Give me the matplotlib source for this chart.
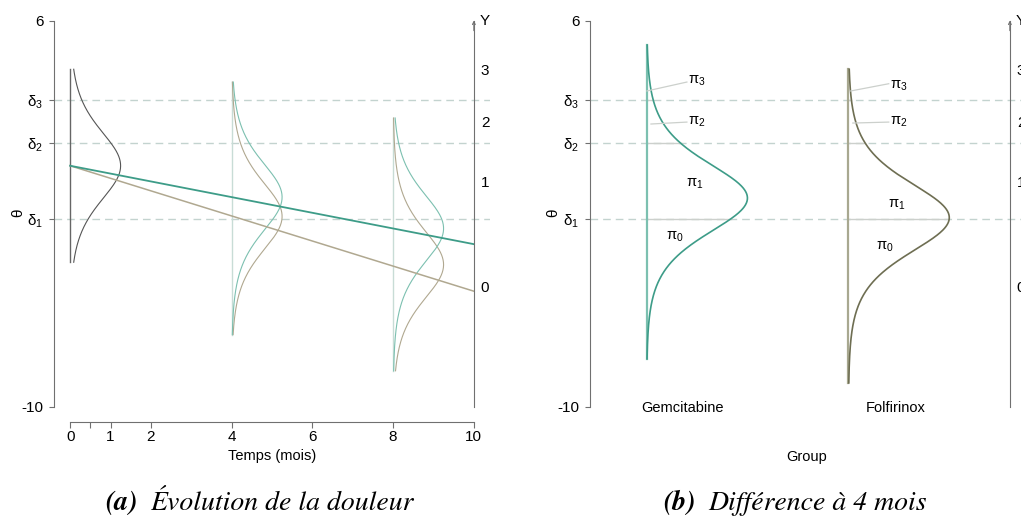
import numpy as np
import matplotlib
matplotlib.use("Agg")
import matplotlib.pyplot as plt

plt.rcParams["font.family"] = ["Liberation Sans", "DejaVu Sans"]
plt.rcParams["mathtext.default"] = "regular"

# seuils latents (axe theta) et niveaux de Y
deltas = [-2.21, 0.94, 2.72]
delta_labels = [r"$\delta_1$", r"$\delta_2$", r"$\delta_3$"]
theta_ticks = [-10, -2.21, 0.94, 2.72, 6]
y_levels = [-5.0, -0.64, 1.83, 4.0]
y_labels = ["0", "1", "2", "3"]

# (a) evolution de la douleur
line_t = [0, 10]
gem_line = [0.0, -3.25]
folf_line = [0.0, -5.2]
dens_times = [0, 4, 8]
dens_gem_center = [0.0, -1.3, -2.6]
dens_folf_center = [0.0, -2.1, -4.1]
dens_lo = [-4.0, -7.0, -8.5]
dens_hi = [4.0, 3.47, 1.98]
time_ticks = [0, 0.5, 1, 2, 4, 6, 8, 10]
time_labels = ["0", "", "1", "2", "4", "6", "8", "10"]

# (b) difference a 4 mois
groups = ["Gemcitabine", "Folfirinox"]
group_x = [1, 6]
group_center = [-1.34, -2.15]
group_lo = [-8.0, -9.0]
group_hi = [5.0, 4.0]

TEAL = "#3d9c88"
TEAL_LIGHT = "#7cc0b0"
KHAKI = "#b0a890"
OLIVE = "#6e6e52"
OLIVE_LIGHT = "#a8a890"
DARK = "#555555"
VLINE = "#c8dcd6"
DASH = "#c3d3cf"
AXIS = "#707070"
SEG = "#ccd0cc"


def logistic_pdf(z):
    e = np.exp(-z)
    return e / (1 + e) ** 2


def setup(ax):
    ax.set_xlim(-0.4, 10.4)
    ax.set_ylim(-10, 6)
    for s in ["top", "right"]:
        ax.spines[s].set_visible(False)
    ax.spines["left"].set_color(AXIS)
    ax.spines["left"].set_bounds(-10, 6)
    ax.set_yticks(theta_ticks)
    ax.set_yticklabels(["-10"] + delta_labels + ["6"])
    ax.tick_params(axis="y", length=3.6, pad=4, color=AXIS, labelsize=11)
    for d in deltas:
        ax.axhline(d, color=DASH, lw=1.0, ls=(0, (5.5, 3.6)), zorder=0)

    # axe Y a droite
    ax2 = ax.twinx()
    ax2.set_ylim(-10, 6)
    for s in ["top", "left", "bottom"]:
        ax2.spines[s].set_visible(False)
    ax2.spines["right"].set_position(("data", 10))
    ax2.spines["right"].set_bounds(-10, 6.0)
    ax2.spines["right"].set_color(AXIS)
    ax2.set_yticks(y_levels)
    ax2.set_yticklabels(y_labels)
    ax2.tick_params(axis="y", length=0, pad=5, labelsize=11)
    ax2.annotate("", xy=(10, 6.02), xytext=(10, 5.6),
                 arrowprops=dict(arrowstyle="->", color=AXIS, lw=0.8,
                                 shrinkA=0, shrinkB=0, mutation_scale=5),
                 annotation_clip=False)
    ax.text(10.15, 6.02, "Y", ha="left", va="center", fontsize=11, clip_on=False)
    return ax2


fig = plt.figure(figsize=(10.21, 5.17), dpi=100)
W, H = 1021, 517
ax_a = fig.add_axes([54 / W, 110 / H, 436 / W, 386 / H])
ax_b = fig.add_axes([590 / W, 110 / H, 436 / W, 386 / H])

# ---------- (a) ----------
setup(ax_a)
ax_a.spines["bottom"].set_position(("outward", 10.8))
ax_a.spines["bottom"].set_bounds(0, 10)
ax_a.spines["bottom"].set_color(AXIS)
ax_a.set_xticks(time_ticks)
ax_a.set_xticklabels(time_labels)
ax_a.tick_params(axis="x", length=4.5, pad=1.5, color=AXIS, labelsize=11)
ax_a.set_xlabel("Temps (mois)", fontsize=10.5)
ax_a.xaxis.set_label_coords((272 - 54) / 436, (407 - 449) / 386)

ax_a.plot(line_t, folf_line, color=KHAKI, lw=1.1, zorder=3)
ax_a.plot(line_t, gem_line, color=TEAL, lw=1.3, zorder=3)

for i, t in enumerate(dens_times):
    th = np.linspace(dens_lo[i], dens_hi[i], 400)
    if t == 0:
        ax_a.plot([t, t], [dens_lo[i], dens_hi[i]], color="#666666", lw=1.0, zorder=2)
        ax_a.plot(t + 5 * logistic_pdf(th - dens_gem_center[i]), th, color=DARK, lw=0.8, zorder=2)
    else:
        ax_a.plot([t, t], [dens_lo[i], dens_hi[i]], color=VLINE, lw=1.0, zorder=1)
        ax_a.plot(t + 5 * logistic_pdf(th - dens_folf_center[i]), th, color=KHAKI, lw=0.8, zorder=2)
        ax_a.plot(t + 5 * logistic_pdf(th - dens_gem_center[i]), th, color=TEAL_LIGHT, lw=0.8, zorder=2)

fig.text(18 / W, 1 - 213 / H, "θ", rotation=90, ha="center", va="center", fontsize=11)

# ---------- (b) ----------
setup(ax_b)
ax_b.spines["bottom"].set_visible(False)
ax_b.set_xticks([])
ax_b.set_xlabel("Group", fontsize=10.5)
ax_b.xaxis.set_label_coords((807 - 590) / 436, (407 - 450) / 386)

curve_cols = [TEAL, OLIVE]
line_cols = [TEAL_LIGHT, OLIVE_LIGHT]
for g, gx, c, lo, hi, cc, lc in zip(groups, group_x, group_center, group_lo,
                                    group_hi, curve_cols, line_cols):
    th = np.linspace(lo, hi, 500)
    for d in deltas:
        ax_b.plot([gx, gx + 10 * logistic_pdf(d - c)], [d, d], color=SEG, lw=1.0, zorder=1)
    ax_b.plot([gx, gx], [lo, hi], color=lc, lw=1.6, zorder=2)
    ax_b.plot(gx + 10 * logistic_pdf(th - c), th, color=cc, lw=1.2, zorder=3)

label_x = [1.88, 7.17]
for g, lx in zip(groups, label_x):
    ax_b.text(lx, -10.06, g, ha="center", va="center", fontsize=10.5)

# etiquettes pi
pi_text = [
    (2.03, 3.52, r"$\pi_3$", "left"), (2.03, 1.83, r"$\pi_2$", "left"),
    (2.2, -0.76, r"$\pi_1$", "center"), (1.7, -2.96, r"$\pi_0$", "center"),
    (7.03, 3.32, r"$\pi_3$", "left"), (7.03, 1.83, r"$\pi_2$", "left"),
    (7.2, -1.63, r"$\pi_1$", "center"), (6.9, -3.38, r"$\pi_0$", "center"),
]
for x, y, s, ha in pi_text:
    ax_b.text(x, y, s, ha=ha, va="center", fontsize=10.5)
leaders = [
    ([1.01, 2.0], [3.10, 3.47]), ([1.11, 2.0], [1.73, 1.81]),
    ([6.06, 7.0], [3.10, 3.40]), ([6.11, 7.0], [1.77, 1.81]),
]
for xs, ys in leaders:
    ax_b.plot(xs, ys, color=SEG, lw=0.9, zorder=4)

fig.text(553 / W, 1 - 213 / H, "θ", rotation=90, ha="center", va="center", fontsize=11)

# legendes sous-figures
cap = dict(family="STIXGeneral", style="italic", fontsize=20, va="baseline")
fig.text(138 / W, 7 / H, "(a)", weight="bold", ha="right", **cap)
fig.text(150 / W, 7 / H, "Évolution de la douleur", ha="left", **cap)
fig.text(696 / W, 7 / H, "(b)", weight="bold", ha="right", **cap)
fig.text(708 / W, 7 / H, "Différence à 4 mois", ha="left", **cap)

fig.savefig("out.png", dpi=100)
